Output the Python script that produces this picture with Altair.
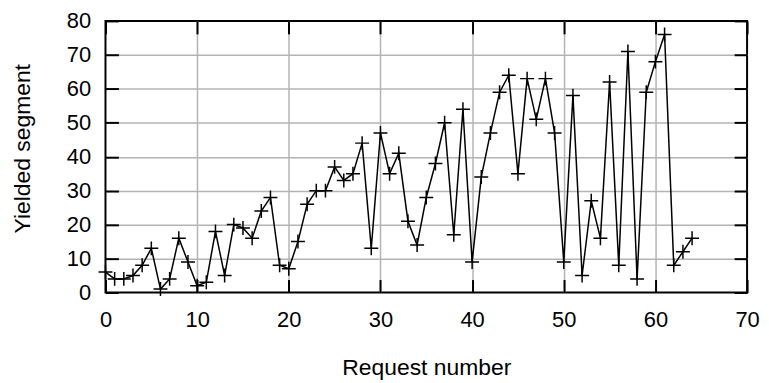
import altair as alt
import pandas as pd

request = list(range(65))
segment = [6, 4, 4, 5, 8, 13, 1, 4, 16, 9,
           2, 3, 18, 5, 20, 19, 16, 24, 28, 8,
           7, 15, 26, 30, 30, 37, 33, 35, 44, 13,
           47, 35, 41, 21, 14, 28, 38, 50, 17, 54,
           9, 34, 47, 59, 64, 35, 63, 51, 63, 47,
           9, 58, 5, 27, 16, 62, 8, 71, 4, 59,
           68, 76, 8, 12, 16]
x_ticks = [0, 10, 20, 30, 40, 50, 60, 70]
y_ticks = [0, 10, 20, 30, 40, 50, 60, 70, 80]

df = pd.DataFrame({"request": request, "segment": segment})

FONT = "Liberation Sans"
xscale = alt.Scale(domain=[0, 70], nice=False, zero=False)
yscale = alt.Scale(domain=[0, 80], nice=False, zero=False)
grid_op_x = {"condition": {"test": "datum.value <= 0 || datum.value >= 70", "value": 0}, "value": 1}
grid_op_y = {"condition": {"test": "datum.value <= 0 || datum.value >= 80", "value": 0}, "value": 1}

lab = dict(domain=False, ticks=False, labelFlush=False, zindex=0,
           labelFont=FONT, labelFontSize=22, labelColor="black",
           titleFont=FONT, titleFontSize=23, titleColor="black", titleFontWeight="normal")
tk1 = dict(domain=False, ticks=True, tickColor="black", tickWidth=2, tickSize=13, tickOpacity=1,
           offset=-13, labels=True, labelOpacity=0, labelFontSize=8, grid=False, title="",
           zindex=2)

base = alt.Chart(df)

line = base.mark_line(color="black", strokeWidth=1.5).encode(
    x=alt.X("request:Q", scale=xscale,
            axis=alt.Axis(orient="bottom", values=x_ticks, title="Request number",
                          grid=True, gridColor="#b4b4b4", gridWidth=1.5, gridOpacity=grid_op_x,
                          labelPadding=17, titleX=322.5, titleY=82.5,
                          titleBaseline="alphabetic", titleAnchor="middle", **lab)),
    y=alt.Y("segment:Q", scale=yscale,
            axis=alt.Axis(orient="left", values=y_ticks, title="Yielded segment",
                          grid=True, gridColor="#b4b4b4", gridWidth=1.5, gridOpacity=grid_op_y,
                          labelPadding=15, titleX=-83, titleY=128, titleAngle=-90,
                          titleAlign="center", titleBaseline="middle", **lab)),
)

pts = base.mark_point(shape="M-1,0L1,0M0,-1L0,1", size=196, filled=False,
                      color="black", strokeWidth=1.5, opacity=1).encode(
    x=alt.X("request:Q", scale=xscale, axis=alt.Axis(orient="bottom", values=x_ticks, **tk1)),
    y=alt.Y("segment:Q", scale=yscale, axis=alt.Axis(orient="left", values=y_ticks, **tk1)),
)

ghost = base.mark_point(opacity=0).encode(
    x=alt.X("request:Q", scale=xscale, axis=alt.Axis(orient="top", values=x_ticks, **tk1)),
    y=alt.Y("segment:Q", scale=yscale, axis=alt.Axis(orient="right", values=y_ticks, **tk1)),
)

chart = alt.layer(line, pts, ghost).resolve_axis(x="independent", y="independent").properties(
    width=645, height=273,
    autosize=alt.AutoSizeParams(type="none"),
    padding={"left": 98, "top": 12, "right": 14, "bottom": 88},
    background="white",
).configure_view(stroke="black", strokeWidth=2)

chart.save("out.html", embed_options={"renderer": "svg", "actions": False})
